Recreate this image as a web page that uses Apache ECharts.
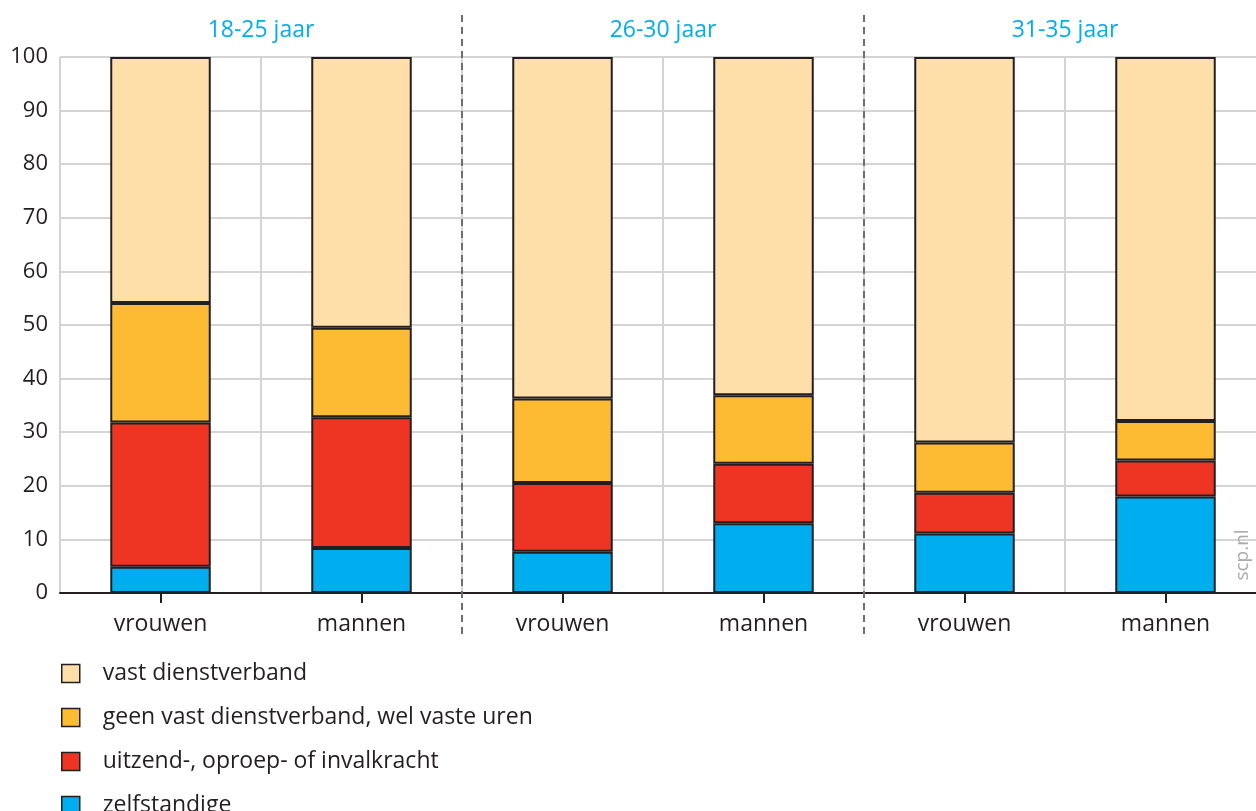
<!DOCTYPE html>
<html>
<head>
<meta charset="utf-8">
<script src="https://cdn.jsdelivr.net/npm/echarts@6/dist/echarts.min.js"></script>
<style>
  html, body { margin: 0; padding: 0; background: #fff; }
  #chart { width: 1256px; height: 811px; }
</style>
</head>
<body>
<div id="chart"></div>
<script>
// categorieen
const categories = ['vrouwen', 'mannen', 'vrouwen', 'mannen', 'vrouwen', 'mannen'];
const groups = ['18-25 jaar', '26-30 jaar', '31-35 jaar'];
const yTicks = [0, 10, 20, 30, 40, 50, 60, 70, 80, 90, 100];

// waarden (procenten), van onder naar boven gestapeld
const zelfstandige = [4.9, 8.4, 7.7, 13.0, 11.1, 18.0];
const uitzend = [26.9, 24.4, 12.8, 11.1, 7.6, 6.7];
const geenVast = [22.3, 16.7, 15.8, 12.8, 9.4, 7.4];
const vast = [45.9, 50.5, 63.7, 63.1, 71.9, 67.9];

const seriesNames = [
  'zelfstandige',
  'uitzend-, oproep- of invalkracht',
  'geen vast dienstverband, wel vaste uren',
  'vast dienstverband',
];
const seriesData = [zelfstandige, uitzend, geenVast, vast];
const colors = ['#00AEEF', '#EE3524', '#FDBB33', '#FEDFAA'];

const textColor = '#231f20';
const gridColor = '#d4d4d4';
const fontFamily = '"Open Sans", sans-serif';

const chart = echarts.init(document.getElementById('chart'));

const option = {
  animation: false,
  textStyle: { fontFamily: fontFamily },
  grid: {
    left: 60,
    right: -10,
    top: 57,
    bottom: 218,
    containLabel: false,
    outerBoundsMode: 'none',
  },
  legend: {
    orient: 'vertical',
    left: 56,
    top: 657,
    height: 300,
    itemWidth: 18,
    itemHeight: 18,
    itemGap: 21,
    icon: 'rect',
    data: seriesNames.slice().reverse(),
    textStyle: { color: textColor, fontSize: 23, lineHeight: 23, fontFamily: fontFamily, padding: [0, 0, 0, 18] },
    itemStyle: { borderColor: '#231f20', borderWidth: 1.5 },
  },
  xAxis: [
    {
      type: 'category',
      data: categories,
      axisLine: { show: true, lineStyle: { color: '#231f20', width: 2 } },
      axisTick: { show: true, alignWithLabel: true, length: 10, lineStyle: { color: '#231f20', width: 2 } },
      axisLabel: { color: textColor, fontSize: 23, margin: 20 },
      splitLine: { show: true, lineStyle: { color: gridColor, width: 2 } },
    },
    {
      type: 'category',
      data: groups,
      position: 'top',
      gridIndex: 0,
      axisLine: { show: false },
      axisTick: { show: false },
      splitLine: { show: false },
      axisLabel: { color: '#00AEEF', fontSize: 23, margin: 15 },
    },
  ],
  yAxis: {
    type: 'value',
    min: yTicks[0],
    max: yTicks[yTicks.length - 1],
    interval: 10,
    axisLine: { show: false },
    axisTick: { show: false },
    axisLabel: { color: textColor, fontSize: 22, margin: 12 },
    splitLine: { lineStyle: { color: gridColor, width: 2 } },
  },
  series: seriesData.map((d, i) => ({
    name: seriesNames[i],
    type: 'bar',
    stack: 'totaal',
    data: d,
    barWidth: '50%',
    itemStyle: {
      color: colors[i],
      borderColor: '#231f20',
      borderWidth: 2,
    },
  })),
};

chart.setOption(option);

// gestippelde scheidingslijnen tussen de leeftijdsgroepen + bronvermelding
const c = groups.map((g, i) => chart.convertToPixel({ xAxisIndex: 1 }, i));
const lines = [(c[0] + c[1]) / 2, (c[1] + c[2]) / 2].map((x) => ({
  type: 'line',
  shape: { x1: x, y1: 15, x2: x, y2: 634 },
  style: { stroke: '#6d6e71', lineWidth: 2, lineDash: [7, 5] },
  z: 10,
}));

chart.setOption({
  graphic: lines.concat([
    {
      type: 'text',
      x: 1243,
      y: 555,
      rotation: Math.PI / 2,
      style: {
        text: 'scp.nl',
        fill: '#a7a9ac',
        fontSize: 19,
        fontFamily: fontFamily,
        align: 'center',
        verticalAlign: 'middle',
      },
      z: 10,
    },
  ]),
});
</script>
</body>
</html>
